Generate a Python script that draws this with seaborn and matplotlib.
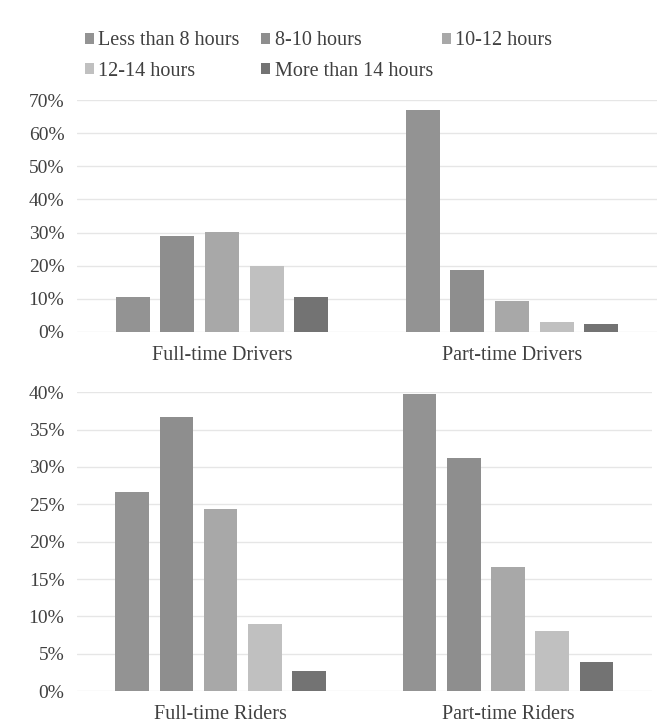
import matplotlib
matplotlib.use("Agg")
import matplotlib.pyplot as plt
import seaborn as sns
import pandas as pd
from matplotlib.ticker import PercentFormatter, MultipleLocator

# Daily working hours by worker group
hour_bins = ["Less than 8 hours", "8-10 hours", "10-12 hours", "12-14 hours", "More than 14 hours"]
driver_groups = ["Full-time Drivers", "Part-time Drivers"]
rider_groups = ["Full-time Riders", "Part-time Riders"]

fulltime_drivers = [0.105, 0.291, 0.303, 0.200, 0.105]
parttime_drivers = [0.671, 0.187, 0.092, 0.031, 0.023]
fulltime_riders = [0.267, 0.367, 0.244, 0.090, 0.027]
parttime_riders = [0.398, 0.312, 0.166, 0.080, 0.039]

bar_colors = ["#939393", "#8e8e8e", "#a8a8a8", "#c0c0c0", "#737373"]


def long_table(groups, series):
    rows = []
    for g, vals in zip(groups, series):
        for h, v in zip(hour_bins, vals):
            rows.append({"group": g, "hours": h, "share": v})
    return pd.DataFrame(rows)


drivers_df = long_table(driver_groups, [fulltime_drivers, parttime_drivers])
riders_df = long_table(rider_groups, [fulltime_riders, parttime_riders])

sns.set_theme(style="white")
plt.rcParams["font.family"] = ["Liberation Serif", "DejaVu Serif"]
plt.rcParams["text.color"] = "#404040"

fig = plt.figure(figsize=(6.63, 7.28), dpi=100)
ax_top = fig.add_axes([0.116, 0.544, 0.875, 0.3186])
ax_bot = fig.add_axes([0.116, 0.0508, 0.867, 0.4103])


def draw(ax, df, order, ymax, step):
    sns.barplot(data=df, x="group", y="share", hue="hours", order=order,
                hue_order=hour_bins, palette=bar_colors, width=0.77, gap=0.24,
                linewidth=0, ax=ax)
    ax.set_xlim(-0.5, 1.5)
    ax.set_ylim(0, ymax)
    ax.yaxis.set_major_locator(MultipleLocator(step))
    ax.yaxis.set_major_formatter(PercentFormatter(1.0, decimals=0))
    ax.grid(axis="y", color="#e6e6e6", linewidth=1.0)
    ax.set_axisbelow(True)
    for s in ax.spines.values():
        s.set_visible(False)
    ax.set_xlabel("")
    ax.set_ylabel("")
    ax.tick_params(axis="both", length=0, colors="#404040")
    ax.tick_params(axis="x", pad=10, labelsize=14.5)
    ax.tick_params(axis="y", pad=9, labelsize=14)


draw(ax_top, drivers_df, driver_groups, 0.70, 0.10)
draw(ax_bot, riders_df, rider_groups, 0.40, 0.05)

handles, labels = ax_top.get_legend_handles_labels()
ax_top.get_legend().remove()
ax_bot.get_legend().remove()

# Legend laid out as three fixed-width columns, filled row by row
columns = [[0, 3], [1, 4], [2]]
col_x = [0.1275, 0.394, 0.666]
for idx, x in zip(columns, col_x):
    fig.legend([handles[i] for i in idx], [labels[i] for i in idx],
               loc="upper left", bbox_to_anchor=(x, 0.957), ncol=1,
               frameon=False, fontsize=14.5, handlelength=0.45,
               handleheight=0.45, handletextpad=0.22, labelspacing=0.58,
               borderpad=0, borderaxespad=0)

fig.savefig("out.png", dpi=100, facecolor="white")
